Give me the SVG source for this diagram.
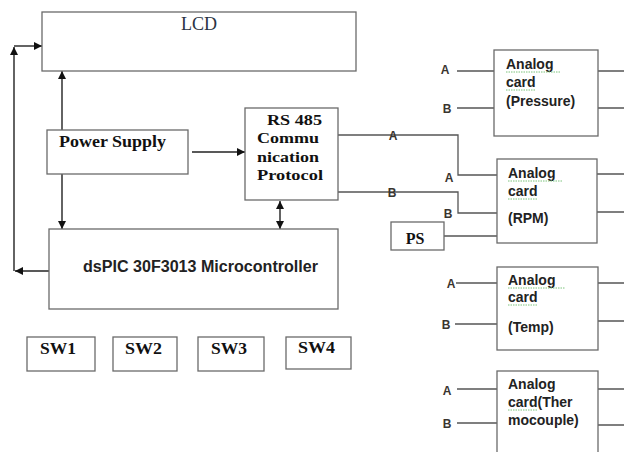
<svg xmlns="http://www.w3.org/2000/svg" width="624" height="452" viewBox="0 0 624 452">
<style>
.box{fill:#fff;stroke:#6a6a6a;stroke-width:1.3}
.ln{fill:none;stroke:#555;stroke-width:1.3}
.ar{fill:none;stroke:#222;stroke-width:1.4}
.ser{font-family:"Liberation Serif","Times New Roman",serif;font-weight:bold;fill:#111}
.san{font-family:"Liberation Sans",Arial,sans-serif;font-weight:bold;fill:#222}
.lab{font-family:"Liberation Sans",Arial,sans-serif;font-weight:bold;font-size:12px;fill:#3a3530;text-anchor:middle}
.sq{fill:none;stroke:#7cc47c;stroke-width:1;stroke-dasharray:1.5 1}
</style>
<defs>
<marker id="ah" viewBox="0 0 10 10" refX="10" refY="5" markerWidth="8" markerHeight="8" markerUnits="userSpaceOnUse" orient="auto-start-reverse">
<path d="M0,0 L10,5 L0,10 z" fill="#111"/>
</marker>
</defs>
<rect width="624" height="452" fill="#fff"/>

<g id="connectors">
<path class="ar" d="M52,271 H15" marker-end="url(#ah)"/>
<path class="ar" d="M14,271 V47" marker-end="url(#ah)"/>
<path class="ar" d="M14,46 H42" marker-end="url(#ah)"/>
<path class="ar" d="M62,130 V71" marker-end="url(#ah)"/>
<path class="ar" d="M62,174 V229" marker-end="url(#ah)"/>
<path class="ar" d="M192,152 H245" marker-end="url(#ah)"/>
<path class="ar" d="M280,201 V229" marker-start="url(#ah)" marker-end="url(#ah)"/>
<path class="ln" d="M338,135 H458 V175 H497"/>
<path class="ln" d="M338,192 H458 V213 H497"/>
<path class="ln" d="M444,236 H497"/>
<path class="ln" d="M457,71 H494 M457,108 H494 M598,71 H624 M598,108 H624"/>
<path class="ln" d="M597,174 H624 M597,212 H624"/>
<path class="ln" d="M456,283 H497 M455,324 H497 M598,283 H624 M598,321 H624"/>
<path class="ln" d="M457,389 H497 M457,423 H497 M598,389 H624 M598,425 H624"/>
<text class="lab" x="393" y="139.5">A</text>
<text class="lab" x="392" y="196.5">B</text>
<text class="lab" x="449" y="181.5">A</text>
<text class="lab" x="448" y="217.5">B</text>
<text class="lab" x="445" y="73.5">A</text>
<text class="lab" x="447" y="112.5">B</text>
<text class="lab" x="451" y="287.5">A</text>
<text class="lab" x="446" y="328.5">B</text>
<text class="lab" x="447" y="394.5">A</text>
<text class="lab" x="447" y="427.5">B</text>
</g>

<g id="lcd">
<rect class="box" x="42" y="12" width="314" height="59"/>
<text x="199" y="30" font-family="Liberation Serif,serif" font-size="18" fill="#2a3444" text-anchor="middle">LCD</text>
</g>

<g id="power-supply">
<rect class="box" x="47" y="130" width="141" height="44"/>
<text class="ser" x="59" y="147" font-size="17" textLength="107" lengthAdjust="spacingAndGlyphs">Power Supply</text>
</g>

<g id="rs485">
<rect class="box" x="245" y="108" width="93" height="92"/>
<text class="ser" x="267" y="125" font-size="15" textLength="55" lengthAdjust="spacingAndGlyphs">RS 485</text>
<text class="ser" x="257" y="143" font-size="15" textLength="62" lengthAdjust="spacingAndGlyphs">Commu</text>
<text class="ser" x="257" y="162" font-size="15" textLength="62" lengthAdjust="spacingAndGlyphs">nication</text>
<text class="ser" x="257" y="180" font-size="15" textLength="66" lengthAdjust="spacingAndGlyphs">Protocol</text>
</g>

<g id="microcontroller">
<rect class="box" x="49" y="229" width="289" height="80"/>
<text class="san" x="83" y="272" font-size="16" textLength="235" lengthAdjust="spacingAndGlyphs">dsPIC 30F3013 Microcontroller</text>
</g>

<g id="sw1"><rect class="box" x="27" y="337" width="68" height="34"/><text class="ser" x="40" y="354" font-size="16" textLength="36" lengthAdjust="spacingAndGlyphs">SW1</text></g>
<g id="sw2"><rect class="box" x="113" y="337" width="64" height="34"/><text class="ser" x="125" y="354" font-size="16" textLength="37" lengthAdjust="spacingAndGlyphs">SW2</text></g>
<g id="sw3"><rect class="box" x="198" y="337" width="66" height="34"/><text class="ser" x="211" y="354" font-size="16" textLength="36" lengthAdjust="spacingAndGlyphs">SW3</text></g>
<g id="sw4"><rect class="box" x="286" y="337" width="65" height="32"/><text class="ser" x="298" y="353" font-size="16" textLength="37" lengthAdjust="spacingAndGlyphs">SW4</text></g>

<g id="ps">
<rect class="box" x="391" y="222" width="53" height="28"/>
<text class="ser" x="415" y="244" font-size="16" text-anchor="middle">PS</text>
</g>

<g id="card-pressure">
<rect class="box" x="494" y="50" width="104" height="86"/>
<text class="san" x="506" y="69" font-size="14">Analog</text>
<text class="san" x="506" y="87" font-size="14">card</text>
<text class="san" x="506" y="106" font-size="14">(Pressure)</text>
<path class="sq" d="M506,72 H561 M506,90 H535"/>
</g>

<g id="card-rpm">
<rect class="box" x="497" y="159" width="100" height="84"/>
<text class="san" x="508" y="178" font-size="14">Analog</text>
<text class="san" x="508" y="196" font-size="14">card</text>
<text class="san" x="508" y="223" font-size="14">(RPM)</text>
<path class="sq" d="M508,181 H563 M508,199 H537"/>
</g>

<g id="card-temp">
<rect class="box" x="497" y="267" width="101" height="83"/>
<text class="san" x="508" y="285" font-size="14">Analog</text>
<text class="san" x="508" y="302" font-size="14">card</text>
<text class="san" x="508" y="332" font-size="14">(Temp)</text>
<path class="sq" d="M508,288 H565 M508,305 H537"/>
</g>

<g id="card-thermocouple">
<rect class="box" x="497" y="371" width="101" height="90"/>
<text class="san" x="508" y="389" font-size="14">Analog</text>
<text class="san" x="508" y="407" font-size="14">card(Ther</text>
<text class="san" x="508" y="425" font-size="14">mocouple)</text>
<path class="sq" d="M508,410 H537"/>
</g>
</svg>
